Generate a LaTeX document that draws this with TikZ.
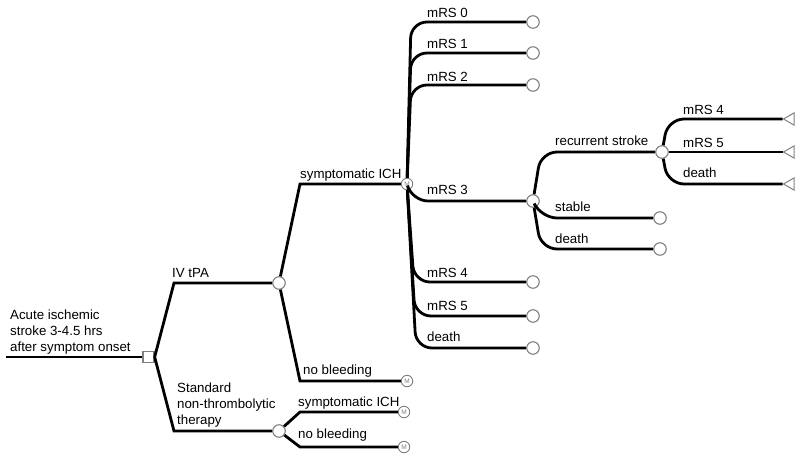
\documentclass[tikz,border=0pt]{standalone}
\usepackage{fontspec}
\setmainfont{Liberation Sans}
\usetikzlibrary{shapes.geometric}
\definecolor{nodegray}{RGB}{128,128,128}
\tikzset{
  br/.style={line width=2.8pt, black},
  rc/.style={rounded corners=16pt},
  chance/.style={circle, draw=nodegray, fill=white, line width=1.1pt, minimum size=12.5pt, inner sep=0pt},
  mnode/.style={circle, draw=nodegray, fill=white, line width=0.9pt, minimum size=11.5pt, inner sep=0pt,
    font=\fontsize{6.5}{6.5}\selectfont, text=nodegray},
  decision/.style={rectangle, draw=nodegray, fill=white, line width=1.3pt, minimum size=11pt, inner sep=0pt},
  terminal/.style={regular polygon, regular polygon sides=3, shape border rotate=90, draw=nodegray,
    fill=white, line width=1pt, minimum size=14pt, inner sep=0pt},
  lab/.style={anchor=base west, inner sep=0pt, font=\fontsize{13.3}{16}\selectfont, align=left},
}
\begin{document}
\begin{tikzpicture}[x=1pt,y=-1pt]
\useasboundingbox (0,0) rectangle (800,458);
% nodes
\coordinate (start) at (6,357);
\node[decision] (root) at (148.5,357) {};
\node[chance] (c1) at (279,283) {};
\node[chance] (c2) at (279,431) {};
\node[mnode] (m1) at (407,184) {M};
\node[mnode] (m2) at (407,381) {M};
\node[mnode] (m3) at (404,412) {M};
\node[mnode] (m4) at (404,447) {M};
\node[chance] (e0) at (533,22) {};
\node[chance] (e1) at (533,53) {};
\node[chance] (e2) at (533,85) {};
\node[chance] (c3) at (533,201) {};
\node[chance] (e4) at (533,282) {};
\node[chance] (e5) at (533,316) {};
\node[chance] (e6) at (533,348) {};
\node[chance] (c4) at (662,152) {};
\node[chance] (e7) at (660,218) {};
\node[chance] (e8) at (660,249) {};
\node[terminal] (t1) at (790.5,119) {};
\node[terminal] (t2) at (790.5,152) {};
\node[terminal] (t3) at (790.5,184) {};
% connectors
\draw[br] (start) -- (root.west);
\draw[br] (root.east) -- (174,283) -- (c1);
\draw[br] (root.east) -- (174,431) -- (c2);
\draw[br] (c1) -- (300,184) -- (m1);
\draw[br] (c1) -- (300,381) -- (m2);
\draw[br] (c2) -- (300,412) -- (m3);
\draw[br] (c2) -- (300,447) -- (m4);
\draw[br,rc] (m1) -- (411,22) -- (e0);
\draw[br,rc] (m1) -- (411,53) -- (e1);
\draw[br,rc] (m1) -- (411,85) -- (e2);
\draw[br,rc] (m1) -- (412,201) -- (c3);
\draw[br,rc] (m1) -- (414,282) -- (e4);
\draw[br,rc] (m1) -- (415,316) -- (e5);
\draw[br,rc] (m1) -- (416,348) -- (e6);
\draw[br,rc] (c3) -- (541,152) -- (c4);
\draw[br,rc] (c3) -- (541,218) -- (e7);
\draw[br,rc] (c3) -- (541,249) -- (e8);
\draw[br,rc] (c4) -- (668,119) -- (t1);
\draw[br] (c4) -- (t2);
\draw[br,rc] (c4) -- (668,184) -- (t3);
% labels
\node[lab] (l0) at (10,351) {Acute ischemic\\stroke 3-4.5 hrs\\after symptom onset};
\node[lab] (l1) at (172,277) {IV tPA};
\node[lab] (l2) at (177,424) {Standard\\non-thrombolytic\\therapy};
\node[lab] (l3) at (300,178) {symptomatic ICH};
\node[lab] (l4) at (303,374) {no bleeding};
\node[lab] (l5) at (298,406) {symptomatic ICH};
\node[lab] (l6) at (298,438) {no bleeding};
\node[lab] (l7) at (427,17) {mRS 0};
\node[lab] (l8) at (427,48) {mRS 1};
\node[lab] (l9) at (427,81) {mRS 2};
\node[lab] (l10) at (427,194) {mRS 3};
\node[lab] (l11) at (427,277) {mRS 4};
\node[lab] (l12) at (427,310) {mRS 5};
\node[lab] (l13) at (427,341) {death};
\node[lab] (l14) at (555,145) {recurrent stroke};
\node[lab] (l15) at (555,211) {stable};
\node[lab] (l16) at (555,243) {death};
\node[lab] (l17) at (683,114) {mRS 4};
\node[lab] (l18) at (683,147) {mRS 5};
\node[lab] (l19) at (683,177) {death};
\end{tikzpicture}
\end{document}
